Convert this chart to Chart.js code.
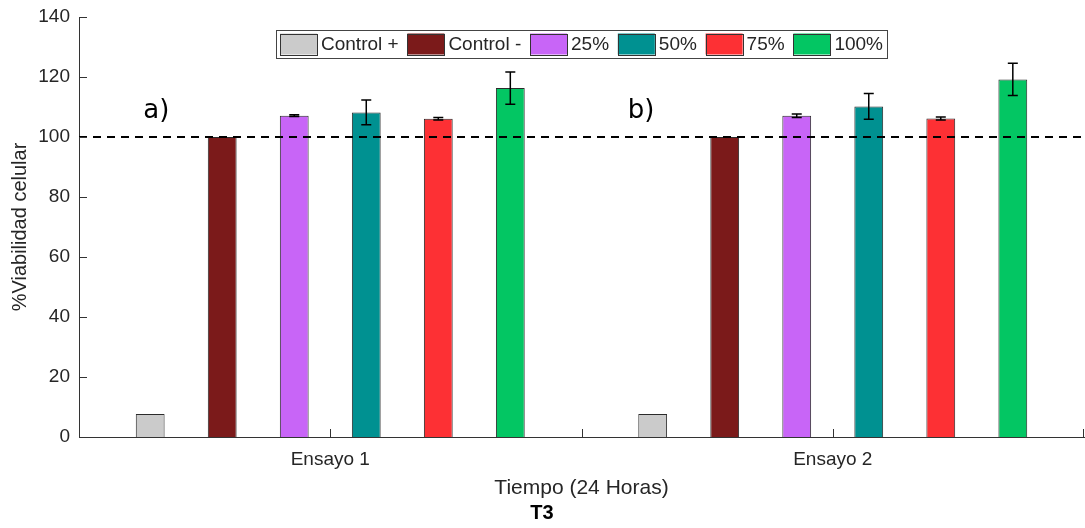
<!DOCTYPE html>
<html>
<head>
<meta charset="utf-8">
<script src="https://cdn.jsdelivr.net/npm/chart.js@4.4.1/dist/chart.umd.min.js"></script>
<style>
  html, body { margin: 0; padding: 0; background: #fff; }
  #wrap { width: 1085px; height: 528px; }
</style>
</head>
<body>
<div id="wrap"><canvas id="viabChart"></canvas></div>
<script>
const categories = ['Ensayo 1', 'Ensayo 2'];
const seriesNames = ['Control +', 'Control -', '25%', '50%', '75%', '100%'];
const seriesColors = ['#cbcbcb', '#7b1a1a', '#c865f7', '#009191', '#fd3034', '#03c663'];

// % viabilidad celular por ensayo
const controlPos = [7.7, 7.7];
const controlNeg = [100, 100];
const conc25 = [107.1, 107.1];
const conc50 = [108.2, 110.2];
const conc75 = [106.1, 106.2];
const conc100 = [116.3, 119.2];

// desviaciones (barras de error)
const errControlPos = [0, 0];
const errControlNeg = [0, 0];
const err25 = [0.3, 0.6];
const err50 = [4.1, 4.3];
const err75 = [0.4, 0.5];
const err100 = [5.4, 5.4];

const panelLabels = ['a)', 'b)'];
const refLine = 100;

const allValues = [controlPos, controlNeg, conc25, conc50, conc75, conc100];
const allErrors = [errControlPos, errControlNeg, err25, err50, err75, err100];

const axisColor = '#333333';
const textColor = '#262626';
const FONT = "'Liberation Sans', Arial, sans-serif";

const extras = {
  id: 'extras',
  afterDatasetsDraw(chart) {
    const { ctx, chartArea: a, scales: { x, y } } = chart;
    ctx.save();

    // linea de referencia 100%
    const yRef = y.getPixelForValue(refLine);
    ctx.setLineDash([8, 6]);
    ctx.lineWidth = 2;
    ctx.strokeStyle = '#000';
    ctx.beginPath();
    ctx.moveTo(a.left, yRef);
    ctx.lineTo(a.right, yRef);
    ctx.stroke();
    ctx.setLineDash([]);

    // barras de error
    ctx.lineWidth = 1.5;
    allErrors.forEach((errs, di) => {
      const meta = chart.getDatasetMeta(di);
      errs.forEach((e, i) => {
        if (!e) return;
        const bx = meta.data[i].x;
        const v = allValues[di][i];
        const yt = y.getPixelForValue(v + e);
        const yb = y.getPixelForValue(v - e);
        ctx.beginPath();
        ctx.moveTo(bx, yt); ctx.lineTo(bx, yb);
        ctx.moveTo(bx - 5, yt); ctx.lineTo(bx + 5, yt);
        ctx.moveTo(bx - 5, yb); ctx.lineTo(bx + 5, yb);
        ctx.stroke();
      });
    });

    // ticks hacia dentro (estilo MATLAB)
    ctx.lineWidth = 1;
    ctx.strokeStyle = axisColor;
    ctx.beginPath();
    y.ticks.forEach(t => {
      const py = Math.round(y.getPixelForValue(t.value)) + 0.5;
      ctx.moveTo(a.left, py);
      ctx.lineTo(a.left + 8, py);
    });
    const catW = (a.right - a.left) / categories.length;
    categories.forEach((c, i) => {
      const cx = x.getPixelForValue(i);
      [cx, cx + catW / 2].forEach(px => {
        const p = Math.min(Math.round(px) + 0.5, a.right - 0.5);
        ctx.moveTo(p, a.bottom);
        ctx.lineTo(p, a.bottom - 8);
      });
    });
    ctx.stroke();

    // etiquetas a) b)
    ctx.fillStyle = '#000';
    ctx.font = "26px 'DejaVu Sans', sans-serif";
    ctx.textAlign = 'left';
    ctx.textBaseline = 'alphabetic';
    const labelShift = [-187, -205];
    panelLabels.forEach((lab, i) => {
      ctx.fillText(lab, x.getPixelForValue(i) + labelShift[i], y.getPixelForValue(106.4));
    });

    // leyenda dentro del area
    ctx.font = '19px ' + FONT;
    const sw = 37, sh = 21, gapText = 4, pad = 4;
    const widths = seriesNames.map(n => ctx.measureText(n).width);
    const boxW = 611, boxH = 28;
    const used = pad * 2 + seriesNames.length * (sw + gapText) + widths.reduce((s, w) => s + w, 0);
    const gap = (boxW - used) / (seriesNames.length - 1);
    const bx0 = (a.left + a.right) / 2 - boxW / 2;
    const by0 = a.top + 13;
    ctx.fillStyle = '#fff';
    ctx.fillRect(bx0, by0, boxW, boxH);
    ctx.strokeStyle = '#444';
    ctx.lineWidth = 1;
    ctx.strokeRect(Math.round(bx0) + 0.5, Math.round(by0) + 0.5, boxW, boxH);
    let cx = bx0 + pad;
    ctx.textBaseline = 'middle';
    seriesNames.forEach((n, i) => {
      const sy = by0 + (boxH - sh) / 2;
      ctx.fillStyle = seriesColors[i];
      ctx.fillRect(cx, sy, sw, sh);
      ctx.strokeStyle = '#333';
      ctx.strokeRect(Math.round(cx) + 0.5, Math.round(sy) + 0.5, sw, sh);
      cx += sw + gapText;
      ctx.fillStyle = textColor;
      ctx.fillText(n, cx, by0 + boxH / 2 + 1);
      cx += widths[i] + gap;
    });

    ctx.restore();
  }
};

const datasets = seriesNames.map((name, idx) => ({
  label: name,
  data: allValues[idx],
  backgroundColor: seriesColors[idx],
  borderColor: '#2b2b2b',
  borderWidth: 1,
  categoryPercentage: 0.86,
  barPercentage: 0.40
}));

const ctx = document.getElementById('viabChart').getContext('2d');
new Chart(ctx, {
  type: 'bar',
  data: { labels: categories, datasets },
  options: {
    responsive: true,
    maintainAspectRatio: false,
    animation: false,
    layout: { padding: { top: 17, right: 1, left: 0, bottom: 0 } },
    plugins: {
      legend: { display: false },
      tooltip: { enabled: false },
      title: {
        display: true,
        position: 'bottom',
        text: 'T3',
        color: '#000',
        font: { family: FONT, size: 20, weight: 'bold' },
        padding: { top: 3, bottom: 3 }
      }
    },
    scales: {
      x: {
        grid: { display: false, drawTicks: false },
        border: { display: true, color: axisColor },
        ticks: { color: textColor, font: { family: FONT, size: 19 }, padding: 11 },
        title: {
          display: true,
          text: 'Tiempo (24 Horas)',
          color: textColor,
          font: { family: FONT, size: 21 },
          padding: { top: 0, bottom: -3 }
        },
        afterFit: s => { s.height = 61; }
      },
      y: {
        min: 0,
        max: 140,
        ticks: { stepSize: 20, color: textColor, font: { family: FONT, size: 19 }, padding: 9 },
        grid: { display: false, drawTicks: false },
        border: { display: true, color: axisColor },
        title: {
          display: true,
          text: '%Viabilidad celular',
          color: textColor,
          font: { family: FONT, size: 20 },
          padding: { top: 8, bottom: 0 }
        },
        afterFit: s => { s.width = 79; s.paddingTop = 0; s.paddingBottom = 0; }
      }
    }
  },
  plugins: [extras]
});
</script>
</body>
</html>
